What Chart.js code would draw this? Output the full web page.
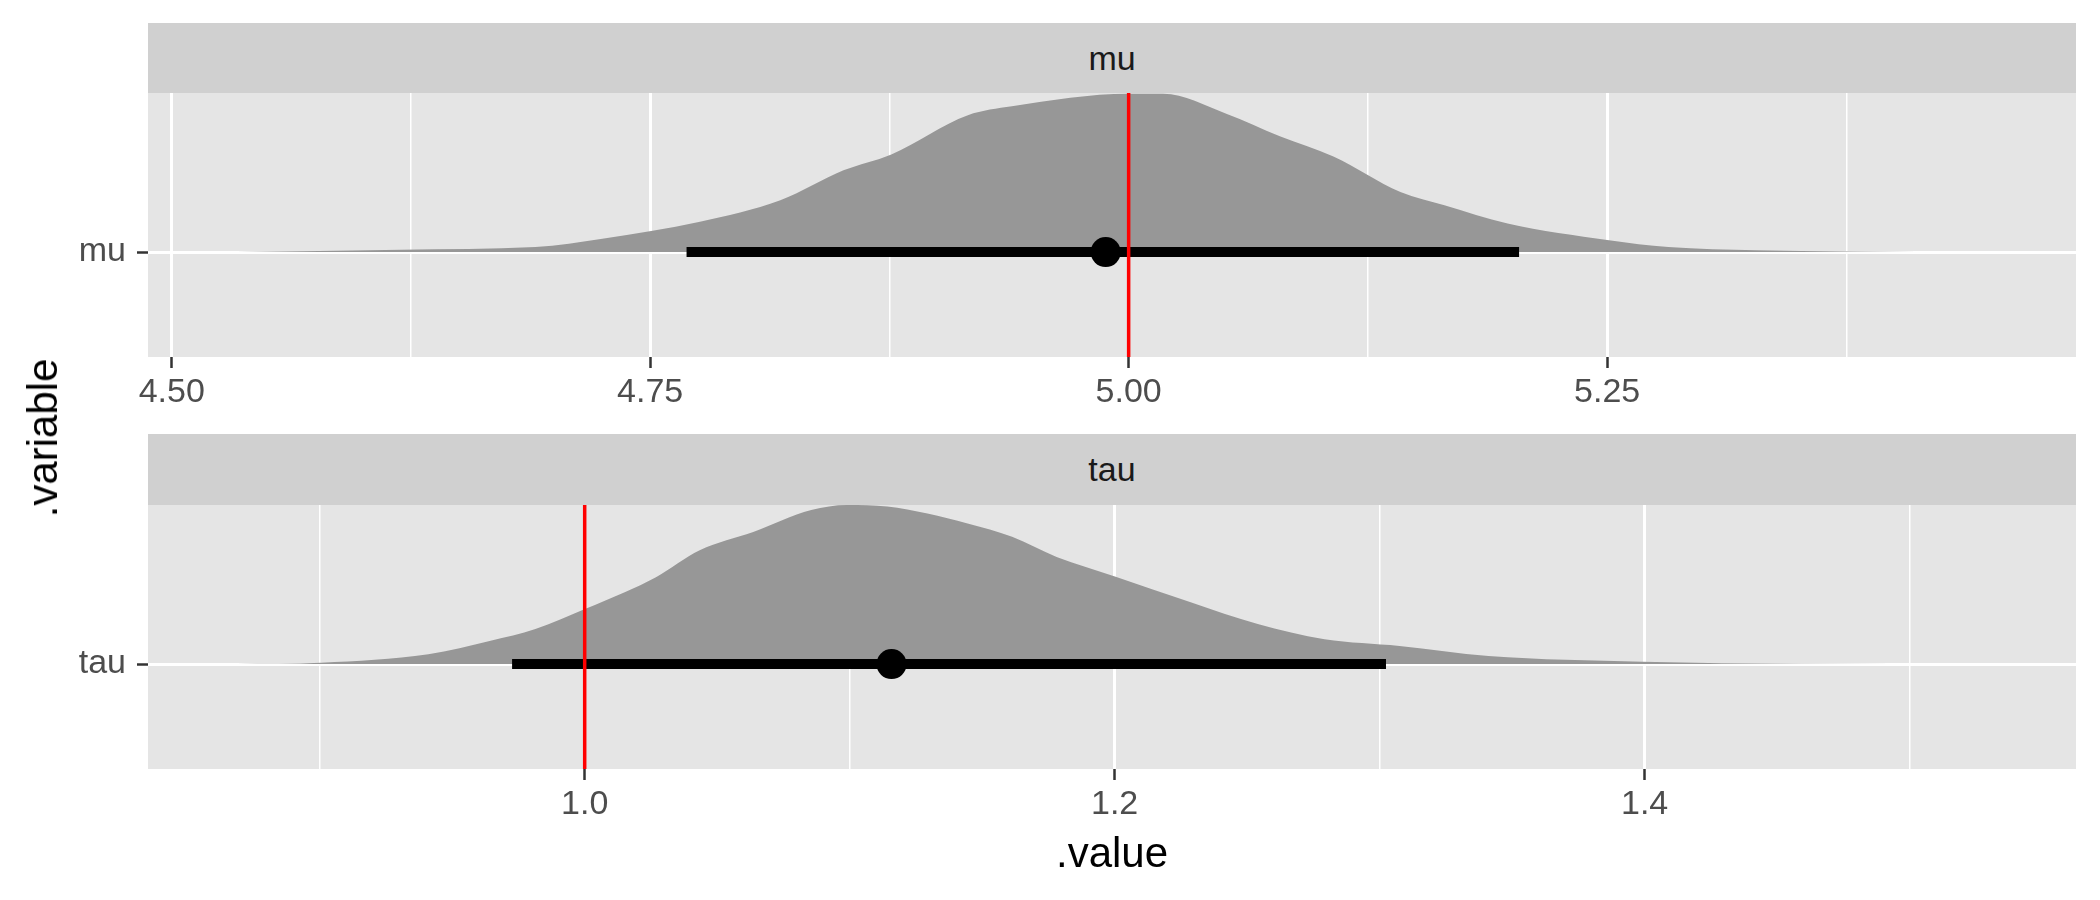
<!DOCTYPE html>
<html>
<head>
<meta charset="utf-8">
<script src="https://cdn.jsdelivr.net/npm/chart.js@4.4.1/dist/chart.umd.min.js"></script>
<style>
  body { margin: 0; background: #fff; }
  #wrap { position: relative; width: 2100px; height: 900px; overflow: hidden; font-family: "Liberation Sans", Arial, sans-serif; }
  .strip { position: absolute; left: 148px; width: 1928px; background: #D0D0D0; color: #1A1A1A; font-size: 34px; display: flex; align-items: center; justify-content: center; }
  canvas { position: absolute; left: 0; }
  .title { position: absolute; color: #000; font-size: 42px; line-height: 42px; white-space: nowrap; }
</style>
</head>
<body>
<div id="wrap">
  <div class="strip" id="strip1" style="top:23px;height:70px;"></div>
  <canvas id="c1" width="2100" height="334" style="top:93px"></canvas>
  <div class="strip" id="strip2" style="top:434px;height:71px;"></div>
  <canvas id="c2" width="2100" height="334" style="top:505px"></canvas>
  <div class="title" id="xt" style="left:1112px;top:832px;transform:translateX(-50%);"></div>
  <div class="title" id="yt" style="left:43px;top:438px;transform:translate(-50%,-50%) rotate(-90deg);"></div>
</div>
<script>
// variables (facets)
const variables = ['mu', 'tau'];
const xTitle = '.value';
const yTitle = '.variable';

// mu: density (scaled to max 1), point and interval
const muDensX = [4.534, 4.620, 4.690, 4.725, 4.776, 4.818, 4.851, 4.876, 4.916, 4.939, 5.000, 5.018, 5.051, 5.079, 5.107, 5.142, 5.165, 5.198, 5.251, 5.282, 5.328, 5.375, 5.449];
const muDensY = [0.000, 0.015, 0.031, 0.084, 0.190, 0.325, 0.514, 0.614, 0.860, 0.916, 0.995, 0.995, 0.870, 0.728, 0.600, 0.377, 0.294, 0.179, 0.074, 0.031, 0.011, 0.004, 0.000];
const muPoint = 4.988;
const muInterval = [4.769, 5.204];
const muTrue = 5.0;
const muRange = [4.4876, 5.495];
const muMajor = [4.50, 4.75, 5.00, 5.25];
const muMinor = [4.625, 4.875, 5.125, 5.375];
const muLabels = ['4.50', '4.75', '5.00', '5.25'];

// tau
const tauDensX = [0.8685, 0.9005, 0.941, 0.9645, 0.9814, 1.0001, 1.0151, 1.0269, 1.0434, 1.0636, 1.0855, 1.099, 1.1142, 1.1445, 1.1613, 1.1781, 1.2001, 1.2287, 1.254, 1.2792, 1.3075, 1.3411, 1.3992, 1.4592, 1.5298];
const tauDensY = [0.000, 0.008, 0.061, 0.146, 0.220, 0.346, 0.451, 0.546, 0.715, 0.830, 0.968, 1.000, 0.990, 0.884, 0.800, 0.673, 0.551, 0.388, 0.251, 0.156, 0.114, 0.051, 0.015, 0.002, 0.000];
const tauPoint = 1.1158;
const tauInterval = [0.9726, 1.3024];
const tauTrue = 1.0;
const tauRange = [0.8352, 1.5628];
const tauMajor = [1.0, 1.2, 1.4];
const tauMinor = [0.9, 1.1, 1.3, 1.5];
const tauLabels = ['1.0', '1.2', '1.4'];

const yRange = [-0.66, 1.0];

Chart.defaults.font.family = '"Liberation Sans", Arial, sans-serif';

document.getElementById('strip1').textContent = variables[0];
document.getElementById('strip2').textContent = variables[1];
document.getElementById('xt').textContent = xTitle;
document.getElementById('yt').textContent = yTitle;

const panelBg = {
  id: 'panelBg',
  beforeDraw(chart) {
    const {ctx, chartArea: a} = chart;
    ctx.save();
    ctx.fillStyle = '#E5E5E5';
    ctx.fillRect(a.left, a.top, a.right - a.left, a.bottom - a.top);
    ctx.restore();
  }
};

function near(a, b) { return Math.abs(a - b) < 1e-9; }

// keep chartArea fixed: no automatic label padding
function noPad(s) {
  s.paddingTop = 0;
  s.paddingBottom = 0;
  s.paddingLeft = 0;
  s.paddingRight = 0;
}

function buildPanel(id, name, densX, densY, point, interval, truth, range, major, minor, labels) {
  const allTicks = major.concat(minor).sort((a, b) => a - b);
  const isMajor = v => major.some(m => near(m, v));

  new Chart(document.getElementById(id), {
    type: 'line',
    data: {
      datasets: [
        {
          data: [{x: truth, y: yRange[0]}, {x: truth, y: yRange[1]}],
          borderColor: '#FF0000',
          borderWidth: 3.5,
          pointRadius: 0,
          fill: false,
          order: 1,
        },
        {
          data: [{x: point, y: 0}],
          showLine: false,
          pointRadius: 15,
          pointBackgroundColor: '#000000',
          pointBorderWidth: 0,
          order: 2,
        },
        {
          data: interval.map(v => ({x: v, y: 0})),
          borderColor: '#000000',
          borderWidth: 10,
          borderCapStyle: 'butt',
          pointRadius: 0,
          fill: false,
          order: 3,
        },
        {
          data: densX.map((x, i) => ({x: x, y: densY[i]})),
          borderColor: 'rgba(0,0,0,0)',
          borderWidth: 0,
          backgroundColor: '#979797',
          pointRadius: 0,
          fill: {value: 0},
          cubicInterpolationMode: 'monotone',
          order: 4,
        },
      ],
    },
    options: {
      responsive: false,
      animation: false,
      devicePixelRatio: 1,
      layout: { autoPadding: false, padding: { left: 0, right: 24, top: 0, bottom: 0 } },
      plugins: { legend: { display: false }, tooltip: { enabled: false } },
      scales: {
        x: {
          type: 'linear',
          min: range[0],
          max: range[1],
          afterBuildTicks: s => { s.ticks = allTicks.map(v => ({value: v})); },
          afterFit: s => { s.height = 70; noPad(s); },
          ticks: {
            autoSkip: false,
            maxRotation: 0,
            padding: 4,
            color: '#4D4D4D',
            font: { size: 34 },
            callback: v => {
              const i = major.findIndex(m => near(m, v));
              return i >= 0 ? labels[i] : '';
            },
          },
          grid: {
            color: '#FFFFFF',
            lineWidth: c => (c.tick && isMajor(c.tick.value)) ? 3 : 1.5,
            drawTicks: true,
            tickLength: 11,
            tickWidth: 2.5,
            tickColor: c => (c.tick && isMajor(c.tick.value)) ? '#333333' : 'rgba(0,0,0,0)',
          },
          border: { display: false },
        },
        y: {
          type: 'linear',
          min: yRange[0],
          max: yRange[1],
          afterBuildTicks: s => { s.ticks = [{value: 0}]; },
          afterFit: s => { s.width = 148; noPad(s); },
          ticks: {
            padding: 11,
            color: '#4D4D4D',
            font: { size: 34 },
            callback: () => name,
          },
          grid: {
            color: '#FFFFFF',
            lineWidth: 3,
            drawTicks: true,
            tickLength: 11,
            tickWidth: 2.5,
            tickColor: '#333333',
          },
          border: { display: false },
        },
      },
    },
    plugins: [panelBg],
  });
}

buildPanel('c1', variables[0], muDensX, muDensY, muPoint, muInterval, muTrue, muRange, muMajor, muMinor, muLabels);
buildPanel('c2', variables[1], tauDensX, tauDensY, tauPoint, tauInterval, tauTrue, tauRange, tauMajor, tauMinor, tauLabels);
</script>
</body>
</html>
